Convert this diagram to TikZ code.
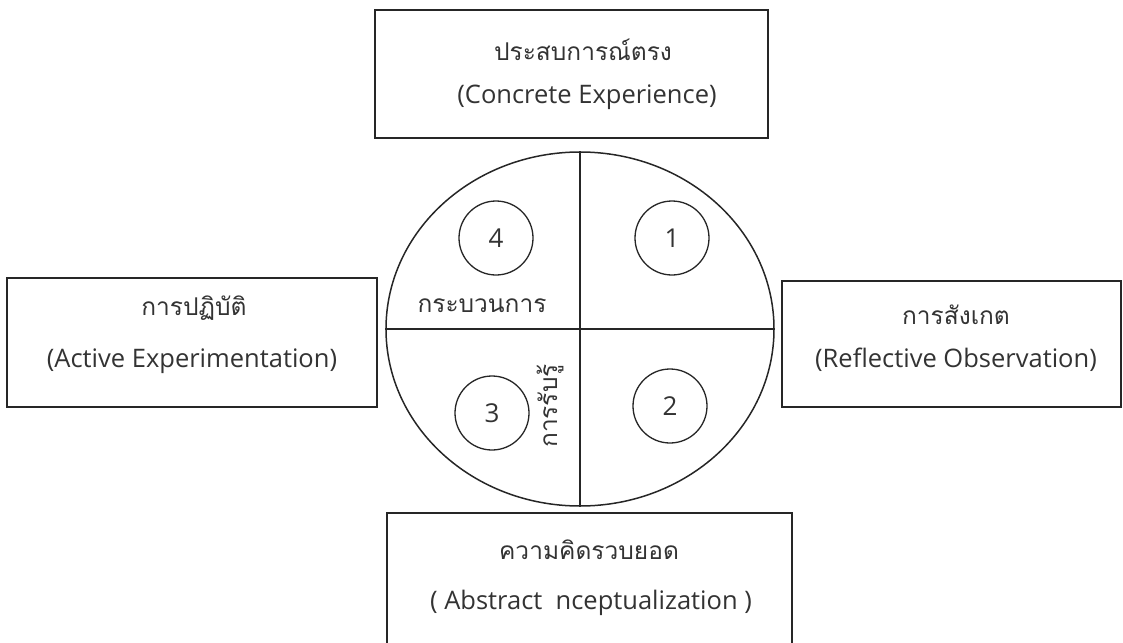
\documentclass[tikz,border=0pt]{standalone}
\usepackage{fontspec}
\usetikzlibrary{shapes.geometric}
\setmainfont{Open Sans}
\newfontfamily\thaifont[Script=Thai]{Loma}
\begin{document}
\begin{tikzpicture}[x=1pt,y=-1pt,
  frame/.style={draw=black!85,line width=1.6pt,inner sep=0pt},
  thai/.style={font=\thaifont\fontsize{24.5}{28}\selectfont,text=black!80,inner sep=0pt},
  eng/.style={font=\fontsize{25.5}{29}\selectfont,text=black!80,inner sep=0pt},
  num/.style={draw=black!85,line width=1.3pt,circle,minimum size=74pt,inner sep=0pt,
              font=\fontsize{26}{30}\selectfont,text=black!80},
  divider/.style={draw=black!85,line width=1.4pt}]
\useasboundingbox (0,0) rectangle (1123,642);
\clip (0,0) rectangle (1123,642);

% outer boxes
\node[frame,minimum width=393pt,minimum height=128pt] (ce) at (571.5,74) {};
\node[frame,minimum width=370pt,minimum height=129pt] (ae) at (192,342.5) {};
\node[frame,minimum width=339pt,minimum height=126pt] (ro) at (951.5,344) {};
\node[frame,minimum width=405pt,minimum height=150pt] (ac) at (589.5,588) {};

% box labels
\node[thai] (ceth) at (583,50) {ประสบการณ์ตรง};
\node[eng]  (ceen) at (587,97) {(Concrete Experience)};
\node[thai] (aeth) at (194,308) {การปฏิบัติ};
\node[eng]  (aeen) at (192,361) {(Active Experimentation)};
\node[thai] (roth) at (956,315) {การสังเกต};
\node[eng]  (roen) at (956,360) {(Reflective Observation)};
\node[thai] (acth) at (589,550) {ความคิดรวบยอด};
\node[eng]  (acen) at (591,603) {( Abstract\ \ nceptualization )};

% central cycle
\node[draw=black!85,line width=1.5pt,ellipse,minimum width=388pt,minimum height=354pt,inner sep=0pt] (cyc) at (580,329) {};
\draw[divider] (cyc.north) -- (cyc.south);
\draw[divider] (cyc.west) -- (cyc.east);

% stage numbers
\node[num] (s4) at (496,238) {4};
\node[num] (s1) at (672,238) {1};
\node[num] (s2) at (670,406) {2};
\node[num] (s3) at (492,413) {3};

% learning process labels
\node[thai] (proc) at (482,306) {กระบวนการ};
\node[thai,rotate=90] (perc) at (550,406) {การรับรู้};
\end{tikzpicture}
\end{document}
